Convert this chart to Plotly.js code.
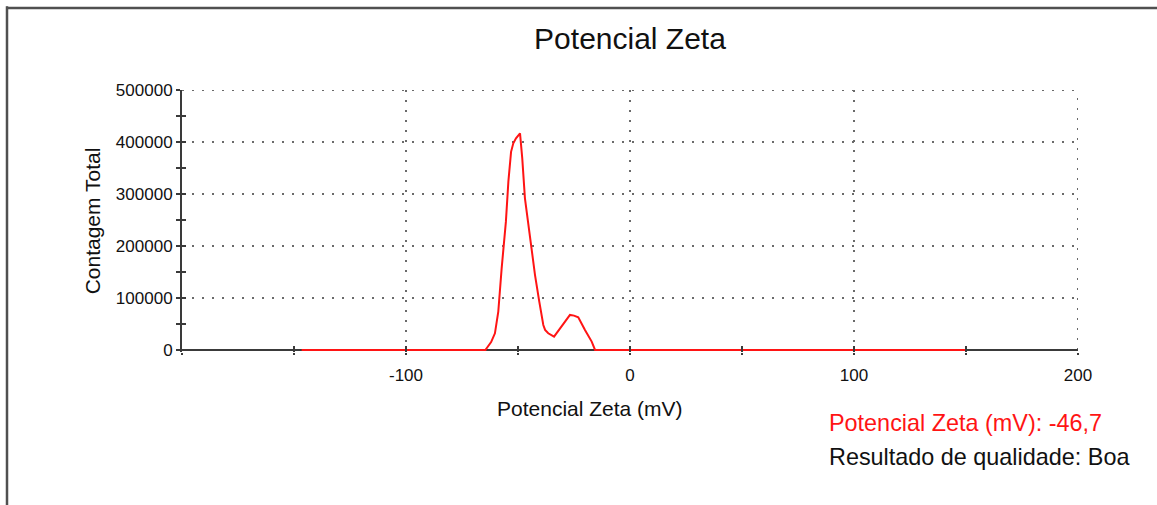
<!DOCTYPE html>
<html>
<head>
<meta charset="utf-8">
<script src="https://cdn.plot.ly/plotly-3.0.1.min.js"></script>
<style>
html,body{margin:0;padding:0;background:#fff;}
#chart{width:1157px;height:505px;}
</style>
</head>
<body>
<div id="chart"></div>
<script>
// Zeta potential distribution (mV) vs total counts
const zetaMv = [-146.6, -64.5, -64.0, -62.0, -60.3, -58.8, -57.3, -56.3, -55.4, -54.3, -53.1, -52.1, -50.9, -49.1, -48.1, -46.9, -45.4, -43.9, -42.4, -40.5, -38.7, -37.9, -36.5, -33.9, -30.5, -26.8, -25.0, -23.1, -20.1, -17.1, -15.6, 150.0];
const totalCounts = [0, 0, 3300, 15000, 32000, 73700, 157000, 202000, 246700, 323700, 381000, 397500, 407000, 416700, 368600, 291700, 240000, 195600, 144000, 92900, 48000, 38500, 32000, 25600, 44800, 67300, 66000, 62800, 38500, 16000, 0, 0];

const xRange = [-200, 200];
const yRange = [-4000, 500000];   // tiny pad below 0 so the trace sits on top of the axis line
const xTickVals = [-100, 0, 100, 200];
const xTickText = ['-100', '0', '100', '200'];
const yTickVals = [0, 100000, 200000, 300000, 400000, 500000];
const yTickText = ['0', '100000', '200000', '300000', '400000', '500000'];

const chartTitle = 'Potencial Zeta';
const xTitle = 'Potencial Zeta (mV)';
const yTitle = 'Contagem Total';
const resultLine1 = 'Potencial Zeta (mV): -46,7';
const resultLine2 = 'Resultado de qualidade: Boa';

const FONT = 'Liberation Sans, Arial, sans-serif';
const TXT = '#111111';
const AX = '#3a3a3a';
const GRID = '#6a6a6a';
const DOTS = '2px,8px';

const trace = {
  x: zetaMv,
  y: totalCounts,
  type: 'scatter',
  mode: 'lines',
  line: {color: '#ff1414', width: 2},
  hoverinfo: 'x+y',
  showlegend: false
};
// invisible trace so the overlay axes (inner half of the crossing ticks) are drawn
const overlayTrace = {
  x: [xRange[0]], y: [0], xaxis: 'x2', yaxis: 'y2',
  type: 'scatter', mode: 'markers', marker: {opacity: 0}, hoverinfo: 'skip', showlegend: false
};

const innerTicks = (range, vals, minorStart, minorStep, len) => ({
  range: range,
  tickmode: 'array',
  tickvals: vals,
  ticks: 'inside',
  ticklen: len,
  tickwidth: 2,
  tickcolor: AX,
  showticklabels: false,
  showgrid: false,
  showline: false,
  zeroline: false,
  minor: {tick0: minorStart, dtick: minorStep, ticks: 'inside', ticklen: len, tickwidth: 2, tickcolor: AX, showgrid: false},
  fixedrange: true
});

const layout = {
  width: 1157,
  height: 505,
  paper_bgcolor: '#ffffff',
  plot_bgcolor: 'rgba(0,0,0,0)',
  margin: {l: 182, r: 79, t: 90, b: 153},
  font: {family: FONT, color: TXT},
  title: {
    text: chartTitle,
    font: {family: FONT, size: 30, color: TXT},
    xref: 'paper', x: 0.5, xanchor: 'center',
    yref: 'container', y: 1 - 38/505, yanchor: 'middle'
  },
  xaxis: {
    range: xRange,
    tickmode: 'array',
    tickvals: xTickVals,
    ticktext: xTickText,
    ticks: 'outside',
    ticklen: 2,
    tickwidth: 2,
    tickcolor: AX,
    ticklabelstandoff: 6,
    tickfont: {family: FONT, size: 17, color: TXT},
    showline: false,
    showgrid: true,
    gridcolor: GRID,
    gridwidth: 2,
    griddash: DOTS,
    zeroline: false,
    minor: {tick0: -200, dtick: 50, ticks: 'outside', ticklen: 2, tickwidth: 2, tickcolor: AX, showgrid: false},
    fixedrange: true
  },
  yaxis: {
    range: yRange,
    tickmode: 'array',
    tickvals: yTickVals,
    ticktext: yTickText,
    ticks: 'outside',
    ticklen: 4,
    tickwidth: 2,
    tickcolor: AX,
    tickfont: {family: FONT, size: 17, color: TXT},
    showline: true,
    linecolor: AX,
    linewidth: 2,
    layer: 'below traces',
    showgrid: true,
    gridcolor: GRID,
    gridwidth: 2,
    griddash: DOTS,
    zeroline: false,
    minor: {tick0: 0, dtick: 50000, ticks: 'outside', ticklen: 4, tickwidth: 2, tickcolor: AX, showgrid: false},
    title: {text: yTitle, font: {family: FONT, size: 21, color: TXT}, standoff: 10},
    fixedrange: true
  },
  xaxis2: Object.assign(innerTicks(xRange, xTickVals, -200, 50, 6), {overlaying: 'x', anchor: 'y2', side: 'bottom'}),
  yaxis2: Object.assign(innerTicks(yRange, yTickVals, 0, 50000, 4), {overlaying: 'y', anchor: 'x2', side: 'left'}),
  shapes: [
    // x axis line at zero counts: above the gridlines, below the trace
    {type: 'line', xref: 'x', yref: 'y', x0: xRange[0], x1: xRange[1], y0: 0, y1: 0, line: {color: AX, width: 2}, layer: 'between'},
    // dotted gridlines on the top and right edges of the plot
    {type: 'line', xref: 'x', yref: 'y', x0: xRange[0], x1: xRange[1], y0: yRange[1], y1: yRange[1], line: {color: GRID, width: 2, dash: DOTS}, layer: 'below'},
    {type: 'line', xref: 'x', yref: 'y', x0: xRange[1], x1: xRange[1], y0: 0, y1: yRange[1], line: {color: GRID, width: 2, dash: DOTS}, layer: 'below'},
    // frame of the report panel
    {type: 'line', xref: 'paper', yref: 'paper', x0: (7-182)/896, x1: (7-182)/896, y0: -1, y1: 1.32, line: {color: '#505050', width: 2.5}},
    {type: 'line', xref: 'paper', yref: 'paper', x0: (6-182)/896, x1: 1.2, y0: 1 + (90-8)/262, y1: 1 + (90-8)/262, line: {color: '#505050', width: 2.5}}
  ],
  annotations: [
    {text: xTitle, xref: 'paper', yref: 'paper', x: (589.5-182)/896, y: (352-408)/262, xanchor: 'center', yanchor: 'middle', showarrow: false, font: {family: FONT, size: 21, color: TXT}},
    {text: resultLine1, xref: 'paper', yref: 'paper', x: (827-182)/896, y: (352-423)/262, xanchor: 'left', yanchor: 'middle', showarrow: false, font: {family: FONT, size: 23.4, color: '#ff1414'}},
    {text: resultLine2, xref: 'paper', yref: 'paper', x: (827-182)/896, y: (352-457)/262, xanchor: 'left', yanchor: 'middle', showarrow: false, font: {family: FONT, size: 23.4, color: TXT}}
  ]
};

Plotly.newPlot('chart', [trace, overlayTrace], layout, {displayModeBar: false, staticPlot: true});
</script>
</body>
</html>
